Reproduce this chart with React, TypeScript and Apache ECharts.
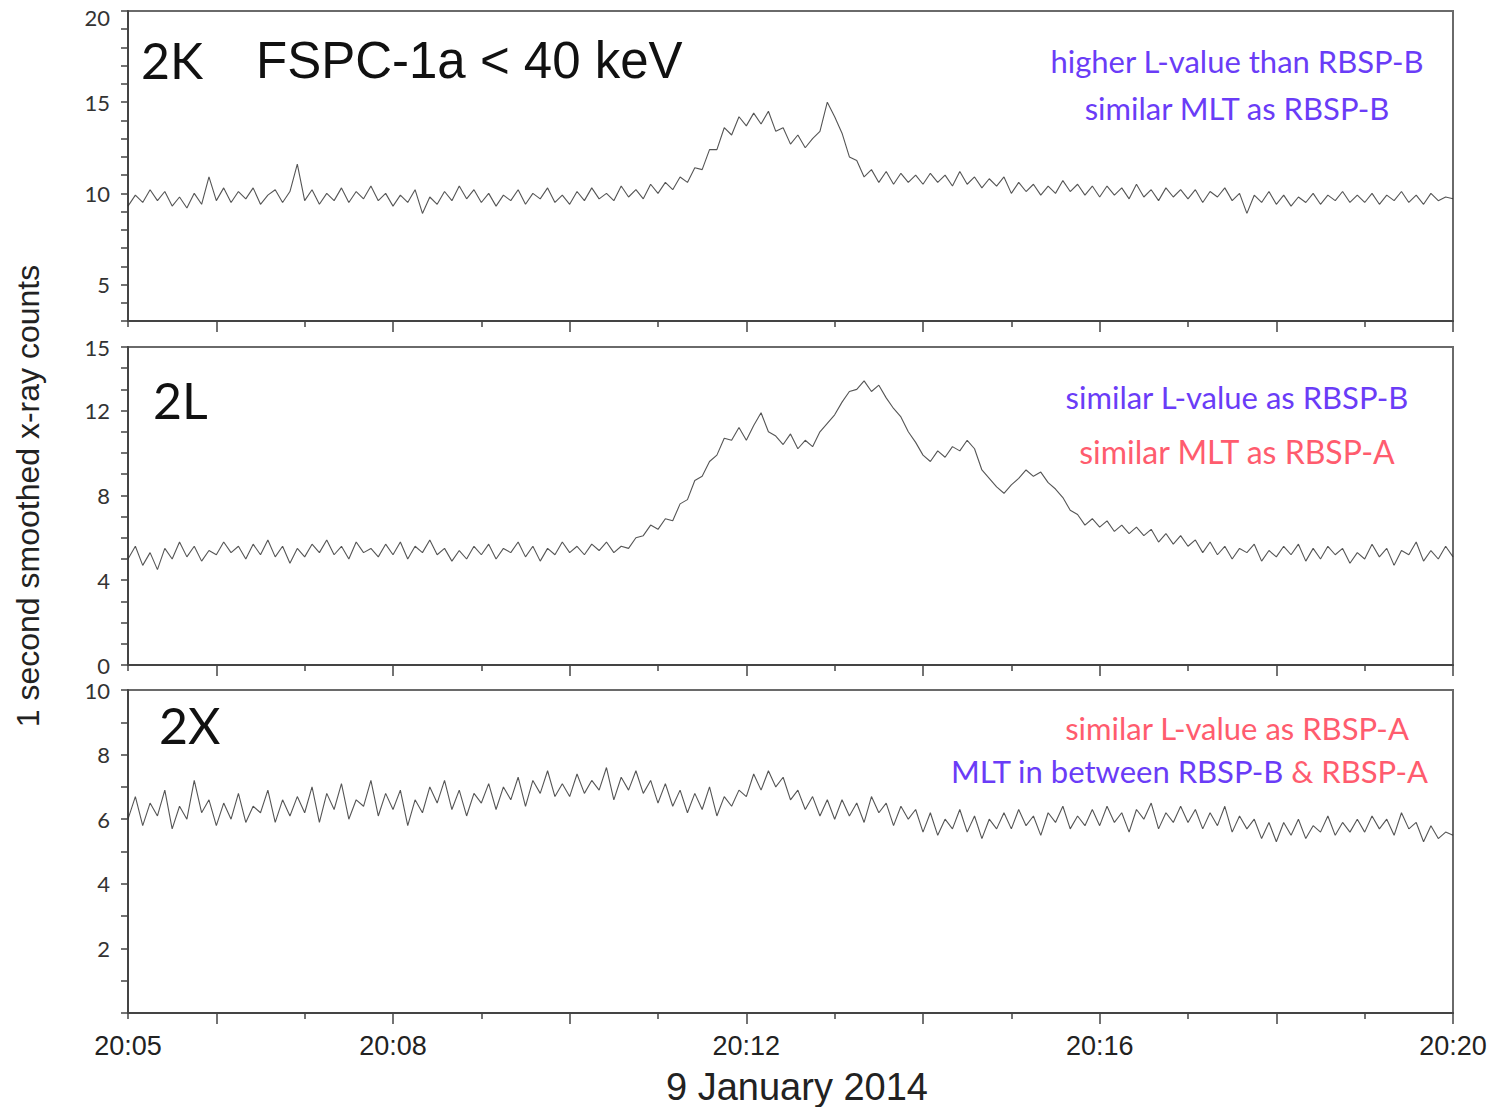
import React, { useEffect, useRef } from "react";
import * as echarts from "echarts";

// sampling: one value every 5 s from 20:05:00 to 20:20:00 (181 samples)
const STEP_SECONDS = 5;

// panel 2K (FSPC-1a < 40 keV)
const COUNTS_2K = [
  9.3, 9.9, 9.5, 10.2, 9.6, 10.1, 9.3, 9.8, 9.2, 10.0, 9.4, 10.9,
  9.6, 10.3, 9.5, 10.1, 9.7, 10.3, 9.4, 9.9, 10.2, 9.5, 10.1, 11.6,
  9.6, 10.2, 9.4, 10.0, 9.6, 10.3, 9.5, 10.1, 9.7, 10.4, 9.6, 10.0,
  9.3, 9.9, 9.5, 10.2, 8.9, 9.8, 9.4, 10.1, 9.6, 10.4, 9.7, 10.2,
  9.5, 10.0, 9.3, 9.9, 9.6, 10.2, 9.4, 10.0, 9.7, 10.3, 9.5, 9.9,
  9.4, 10.1, 9.6, 10.3, 9.7, 10.0, 9.6, 10.4, 9.8, 10.2, 9.7, 10.5,
  10.0, 10.6, 10.2, 10.9, 10.6, 11.4, 11.3, 12.4, 12.4, 13.6, 13.2, 14.2,
  13.7, 14.4, 13.8, 14.5, 13.4, 13.6, 12.7, 13.2, 12.5, 13.0, 13.4, 15.0,
  14.2, 13.3, 12.0, 11.8, 10.9, 11.3, 10.6, 11.2, 10.5, 11.1, 10.6, 11.0,
  10.5, 11.1, 10.6, 11.0, 10.4, 11.2, 10.5, 10.9, 10.3, 10.8, 10.4, 10.9,
  10.0, 10.6, 10.1, 10.5, 9.9, 10.4, 10.0, 10.7, 10.1, 10.5, 9.9, 10.4,
  9.8, 10.4, 9.9, 10.3, 9.7, 10.5, 9.8, 10.2, 9.6, 10.3, 9.8, 10.2,
  9.7, 10.2, 9.5, 10.1, 9.8, 10.3, 9.6, 10.0, 8.9, 9.9, 9.5, 10.1,
  9.4, 9.9, 9.3, 9.8, 9.5, 10.0, 9.4, 9.9, 9.6, 10.1, 9.5, 9.9,
  9.5, 10.0, 9.4, 9.9, 9.6, 10.1, 9.5, 9.9, 9.4, 10.0, 9.6, 9.8,
  9.7,
];

// panel 2L
const COUNTS_2L = [
  5.0, 5.6, 4.7, 5.3, 4.5, 5.5, 5.0, 5.8, 5.1, 5.6, 4.9, 5.4,
  5.2, 5.8, 5.3, 5.6, 5.0, 5.7, 5.2, 5.9, 5.1, 5.6, 4.8, 5.5,
  5.1, 5.7, 5.3, 5.9, 5.2, 5.6, 5.0, 5.8, 5.3, 5.5, 5.1, 5.7,
  5.2, 5.8, 5.0, 5.6, 5.3, 5.9, 5.2, 5.5, 4.9, 5.4, 5.0, 5.6,
  5.2, 5.7, 5.0, 5.5, 5.3, 5.8, 5.1, 5.6, 4.9, 5.5, 5.2, 5.8,
  5.3, 5.6, 5.2, 5.7, 5.4, 5.8, 5.3, 5.6, 5.5, 6.0, 6.1, 6.6,
  6.4, 6.9, 6.8, 7.6, 7.8, 8.7, 8.9, 9.6, 9.9, 10.7, 10.6, 11.2,
  10.6, 11.3, 11.9, 11.0, 10.8, 10.4, 10.9, 10.2, 10.6, 10.3, 11.0, 11.4,
  11.8, 12.4, 12.9, 13.0, 13.4, 12.9, 13.2, 12.6, 12.1, 11.7, 11.0, 10.5,
  9.9, 9.6, 10.1, 9.8, 10.3, 10.1, 10.6, 10.2, 9.2, 8.8, 8.4, 8.1,
  8.5, 8.8, 9.2, 8.9, 9.1, 8.6, 8.3, 7.9, 7.3, 7.1, 6.6, 6.9,
  6.5, 6.8, 6.3, 6.6, 6.2, 6.5, 6.1, 6.4, 5.8, 6.2, 5.7, 6.1,
  5.6, 5.9, 5.3, 5.8, 5.2, 5.6, 5.0, 5.5, 5.3, 5.7, 4.9, 5.4,
  5.1, 5.6, 5.2, 5.7, 4.9, 5.5, 5.0, 5.6, 5.2, 5.5, 4.8, 5.3,
  5.0, 5.7, 5.1, 5.5, 4.7, 5.4, 5.2, 5.8, 4.9, 5.4, 5.0, 5.6,
  5.1,
];

// panel 2X
const COUNTS_2X = [
  6.0, 6.7, 5.8, 6.5, 6.1, 6.9, 5.7, 6.4, 6.0, 7.2, 6.2, 6.6,
  5.8, 6.5, 6.0, 6.8, 5.9, 6.4, 6.2, 6.9, 5.9, 6.6, 6.1, 6.7,
  6.2, 7.0, 5.9, 6.8, 6.3, 7.1, 6.0, 6.6, 6.4, 7.2, 6.1, 6.8,
  6.3, 6.9, 5.8, 6.6, 6.2, 7.0, 6.5, 7.2, 6.3, 6.9, 6.1, 6.8,
  6.5, 7.1, 6.3, 7.0, 6.6, 7.3, 6.4, 7.2, 6.8, 7.5, 6.7, 7.1,
  6.7, 7.4, 6.8, 7.2, 6.9, 7.6, 6.6, 7.3, 6.9, 7.5, 6.8, 7.2,
  6.5, 7.1, 6.4, 6.9, 6.2, 6.8, 6.3, 7.0, 6.1, 6.7, 6.4, 6.9,
  6.7, 7.4, 6.9, 7.5, 7.0, 7.3, 6.6, 6.9, 6.3, 6.7, 6.1, 6.6,
  6.0, 6.6, 6.1, 6.5, 5.9, 6.7, 6.2, 6.5, 5.8, 6.4, 6.0, 6.3,
  5.6, 6.2, 5.5, 6.0, 5.7, 6.3, 5.6, 6.1, 5.4, 6.0, 5.7, 6.2,
  5.7, 6.3, 5.8, 6.1, 5.5, 6.2, 5.9, 6.4, 5.7, 6.1, 5.8, 6.3,
  5.8, 6.4, 5.9, 6.2, 5.6, 6.3, 6.0, 6.5, 5.7, 6.2, 5.9, 6.4,
  5.9, 6.3, 5.7, 6.2, 5.8, 6.4, 5.6, 6.1, 5.7, 6.0, 5.4, 5.9,
  5.3, 5.9, 5.5, 6.0, 5.4, 5.8, 5.6, 6.1, 5.5, 5.9, 5.6, 6.0,
  5.6, 6.1, 5.7, 6.0, 5.5, 6.2, 5.7, 5.9, 5.3, 5.8, 5.4, 5.6,
  5.5,
];

// x axis (seconds after 20:05:00)
const X_MAX = 900;
const X_LABEL_SECONDS = [0, 180, 420, 660, 900];
const X_LABELS = ["20:05", "20:08", "20:12", "20:16", "20:20"];
const LONG_TICK_SECONDS = [60, 180, 300, 420, 540, 660, 780, 900];
const SHORT_TICK_SECONDS = [0, 120, 240, 360, 480, 600, 720, 840];

// y axes
const Y_MIN = [3, 0, 0];
const Y_MAX = [20, 15, 10];
const Y_LABELS = [
  [5, 10, 15, 20],
  [0, 4, 8, 12, 15],
  [2, 4, 6, 8, 10],
];

const PANEL_NAMES = ["2K", "2L", "2X"];
const BLUE = "#6a3cf7";
const RED = "#ff5c6e";

const GRIDS = [
  { top: 11, height: 310 },
  { top: 347, height: 318 },
  { top: 690, height: 323 },
];

export default function App() {
  const ref = useRef<HTMLDivElement>(null);

  useEffect(() => {
    if (!ref.current) return;
    const chart = echarts.init(ref.current, undefined, { renderer: "svg" });
    const all = [COUNTS_2K, COUNTS_2L, COUNTS_2X];
    const axisColor = "#444";
    const grid = GRIDS.map((g) => ({
      left: 128,
      right: 47,
      top: g.top,
      height: g.height,
      show: true,
      borderColor: "#6a6a6a",
      borderWidth: 2,
      backgroundColor: "transparent",
      containLabel: false,
    }));
    const xAxis: any[] = [];
    const yAxis: any[] = [];
    const series: any[] = [];
    for (let i = 0; i < 3; i++) {
      xAxis.push({
        gridIndex: i,
        type: "value",
        min: 0,
        max: X_MAX,
        interval: 60,
        position: "bottom",
        axisLine: { show: true, lineStyle: { color: axisColor, width: 2 } },
        axisTick: {
          show: true,
          customValues: LONG_TICK_SECONDS,
          length: 11,
          lineStyle: { color: axisColor, width: 1.5 },
        },
        axisLabel: {
          show: i === 2,
          customValues: X_LABEL_SECONDS,
          formatter: (v: number) => {
            const k = X_LABEL_SECONDS.indexOf(Math.round(v));
            return k >= 0 ? X_LABELS[k] : "";
          },
          fontFamily: "Liberation Sans",
          fontSize: 27,
          color: "#222",
          margin: 19,
        },
        splitLine: { show: false },
      });
      xAxis.push({
        gridIndex: i,
        type: "value",
        min: 0,
        max: X_MAX,
        interval: 60,
        position: "bottom",
        axisLine: { show: false },
        axisTick: {
          show: true,
          customValues: SHORT_TICK_SECONDS,
          length: 6,
          lineStyle: { color: axisColor, width: 1.5 },
        },
        axisLabel: { show: false },
        splitLine: { show: false },
      });
      const topVal = Y_MAX[i];
      yAxis.push({
        gridIndex: i,
        type: "value",
        min: Y_MIN[i],
        max: Y_MAX[i],
        interval: 1,
        axisLine: { show: true, lineStyle: { color: axisColor, width: 2 } },
        axisTick: { show: true, length: 7, lineStyle: { color: axisColor, width: 1.5 } },
        axisLabel: {
          customValues: Y_LABELS[i],
          formatter: (v: number) =>
            i === 0 && Math.round(v) === topVal ? `{t|${v}}` : `${v}`,
          rich: { t: { fontFamily: "Lato", fontSize: 22, color: "#333", padding: [12, 0, 0, 0] } },
          fontFamily: "Lato",
          fontSize: 22,
          color: "#333",
          margin: 18,
        },
        splitLine: { show: false },
      });
      series.push({
        type: "line",
        xAxisIndex: 2 * i,
        yAxisIndex: i,
        showSymbol: false,
        silent: true,
        lineStyle: { width: 1.1, color: "#2a2a2a", opacity: 0.8 },
        data: all[i].map((v, k) => [k * STEP_SECONDS, v]),
      });
    }

    const lato = "Lato";
    const helv = "Liberation Sans";
    const graphic: any[] = [
      { type: "text", x: 141, y: 60, style: { text: PANEL_NAMES[0], font: `50px ${lato}`, fill: "#111", textVerticalAlign: "middle" } },
      { type: "text", x: 256, y: 60, style: { text: "FSPC-1a < 40 keV", font: `51px ${helv}`, fill: "#111", textVerticalAlign: "middle" } },
      { type: "text", x: 153, y: 400, style: { text: PANEL_NAMES[1], font: `50px ${lato}`, fill: "#111", textVerticalAlign: "middle" } },
      { type: "text", x: 159, y: 725, style: { text: PANEL_NAMES[2], font: `50px ${lato}`, fill: "#111", textVerticalAlign: "middle" } },
      { type: "text", x: 1237, y: 61, style: { text: "higher L-value than RBSP-B", font: `31px ${lato}`, fill: BLUE, textAlign: "center", textVerticalAlign: "middle" } },
      { type: "text", x: 1237, y: 108, style: { text: "similar MLT as RBSP-B", font: `31px ${lato}`, fill: BLUE, textAlign: "center", textVerticalAlign: "middle" } },
      { type: "text", x: 1237, y: 397, style: { text: "similar L-value as RBSP-B", font: `31px ${lato}`, fill: BLUE, textAlign: "center", textVerticalAlign: "middle" } },
      { type: "text", x: 1237, y: 451, style: { text: "similar MLT as RBSP-A", font: `32px ${lato}`, fill: RED, textAlign: "center", textVerticalAlign: "middle" } },
      { type: "text", x: 1237, y: 728, style: { text: "similar L-value as RBSP-A", font: `31px ${lato}`, fill: RED, textAlign: "center", textVerticalAlign: "middle" } },
      {
        type: "text",
        x: 1428,
        y: 771,
        style: {
          text: "{b|MLT in between RBSP-B} {r|& RBSP-A}",
          textAlign: "right",
          textVerticalAlign: "middle",
          rich: {
            b: { fontFamily: lato, fontSize: 31, fill: BLUE, color: BLUE },
            r: { fontFamily: lato, fontSize: 31, fill: RED, color: RED },
          },
          font: `31px ${lato}`,
        },
      },
      {
        type: "text",
        x: 28,
        y: 496,
        rotation: Math.PI / 2,
        style: { text: "1 second smoothed x-ray counts", font: `32px ${helv}`, fill: "#222", textAlign: "center", textVerticalAlign: "middle" },
      },
      { type: "text", x: 797, y: 1087, style: { text: "9 January 2014", font: `38px ${helv}`, fill: "#222", textAlign: "center", textVerticalAlign: "middle" } },
    ];

    chart.setOption({
      animation: false,
      backgroundColor: "#fff",
      grid,
      xAxis,
      yAxis,
      series,
      graphic,
    });
    return () => chart.dispose();
  }, []);

  return (
    <div
      ref={ref}
      style={{ position: "absolute", left: 0, top: 0, width: 1500, height: 1107 }}
    />
  );
}
